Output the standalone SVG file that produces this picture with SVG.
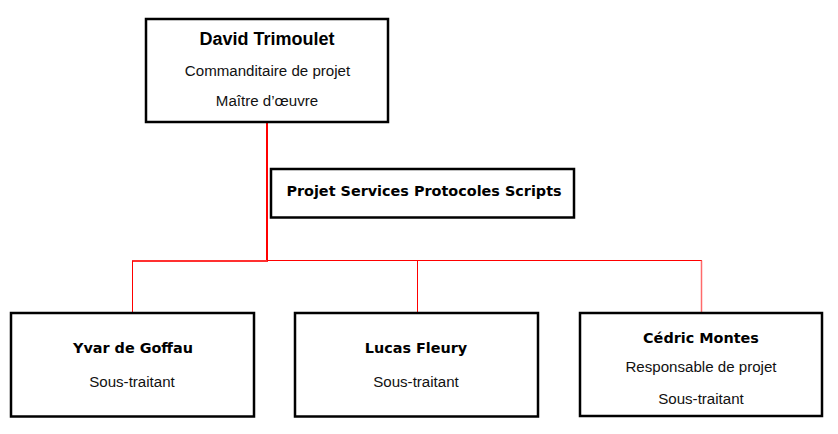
<svg xmlns="http://www.w3.org/2000/svg" width="838" height="434" viewBox="0 0 838 434">
<style>
.box{fill:#fff;stroke:#000;stroke-width:2.5}
.b1{font-family:"Liberation Sans",Arial,sans-serif;font-weight:bold;font-size:18px;fill:#000;text-anchor:middle}
.b2{font-family:"DejaVu Sans",Verdana,sans-serif;font-weight:bold;font-size:14.4px;fill:#000;text-anchor:middle}
.r{font-family:"Liberation Sans",Arial,sans-serif;font-size:15.1px;fill:#111;text-anchor:middle}
.c{fill:none;stroke:#ff0000;stroke-width:1}
</style>
<rect width="838" height="434" fill="#fff"/>
<g id="connectors">
<path d="M267,122 V261" style="fill:none;stroke:#ff0000;stroke-width:2"/>
<path d="M132,261 H268" style="fill:none;stroke:#ff3030;stroke-width:2"/>
<path class="c" d="M267,260.5 H702"/>
<path class="c" d="M132.5,261 V313"/>
<path class="c" d="M417.5,260.5 V313"/>
<path d="M701.5,260.5 V313" style="fill:none;stroke:#ff6a6a;stroke-width:1.5"/>
</g>
<g id="david">
<rect class="box" x="146" y="19" width="242" height="103"/>
<text class="b1" x="267" y="45">David Trimoulet</text>
<text class="r" x="267.5" y="76">Commanditaire de projet</text>
<text class="r" x="267" y="106">Maître d’œuvre</text>
</g>
<g id="projet">
<rect class="box" x="271" y="169" width="303" height="48.5"/>
<text class="b2" x="424" y="196">Projet Services Protocoles Scripts</text>
</g>
<g id="yvar">
<rect class="box" x="11" y="313" width="243" height="103.5"/>
<text class="b2" x="133" y="353">Yvar de Goffau</text>
<text class="r" x="132" y="387">Sous-traitant</text>
</g>
<g id="lucas">
<rect class="box" x="295" y="313" width="243" height="103.5"/>
<text class="b2" x="416" y="353">Lucas Fleury</text>
<text class="r" x="416" y="387">Sous-traitant</text>
</g>
<g id="cedric">
<rect class="box" x="580" y="313" width="242" height="103"/>
<text class="b2" x="701" y="342.5">Cédric Montes</text>
<text class="r" x="701" y="372">Responsable de projet</text>
<text class="r" x="701" y="403.5">Sous-traitant</text>
</g>
</svg>
